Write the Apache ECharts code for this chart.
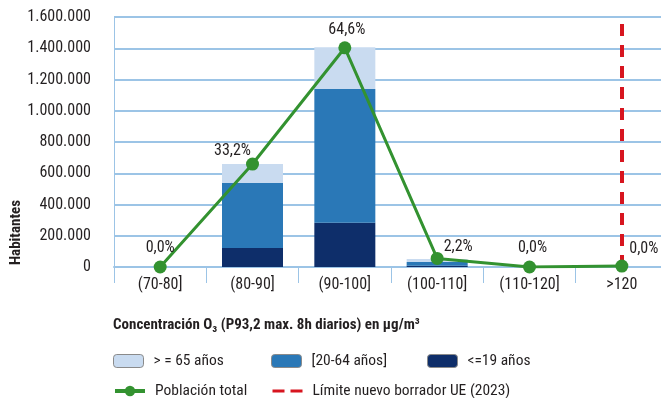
<!DOCTYPE html>
<html><head><meta charset="utf-8">
<script src="https://cdn.jsdelivr.net/npm/echarts@6/dist/echarts.min.js"></script>
<style>html,body{margin:0;padding:0;background:#fff;overflow:hidden}#c{width:680px;height:398px}</style>
</head><body><div id="c"></div>
<script>
const categories = ['(70-80]', '(80-90]', '(90-100]', '(100-110]', '(110-120]', '>120'];
const young = [0, 122000, 284000, 8000, 0, 0];          // <=19 años
const adults = [0, 416000, 855000, 24000, 0, 0];        // [20-64 años]
const seniors = [0, 121000, 267000, 19000, 0, 0];       // >= 65 años
const totalPop = [0, 659000, 1403000, 55000, 0, 6000];  // Población total
const totalPct = ['0,0%', '33,2%', '64,6%', '2,2%', '0,0%', '0,0%'];
const yTicks = [0, 200000, 400000, 600000, 800000, 1000000, 1200000, 1400000, 1600000];
const limitCategory = '>120';

const FONT = "'Roboto Condensed','Liberation Sans Narrow','DejaVu Sans Condensed',Roboto,sans-serif";
const TXT = '#231f20';
const chart = echarts.init(document.getElementById('c'), null, {renderer: 'canvas'});
const fmt = v => String(v).replace(/\B(?=(\d{3})+(?!\d))/g, '.');
const labelPos = [[0,0],[-20,6],[2,2],[21,8],[3,0],[22,2]];

const baseLegend = {itemWidth: 30, itemHeight: 13, itemGap: 8, padding: 0,
  textStyle: {color: TXT, fontSize: 15.5, fontFamily: FONT, padding: [0,0,0,5]}};

chart.setOption({
  animation: false,
  textStyle: {fontFamily: FONT},
  grid: {left: 114, width: 554, top: 17, height: 250, containLabel: false},
  xAxis: {
    type: 'category', data: categories,
    axisLine: {lineStyle: {color: '#9cc4e6', width: 2}},
    axisTick: {show: true, alignWithLabel: false, length: 16, lineStyle: {color: '#9cc4e6', width: 1}},
    axisLabel: {color: TXT, fontSize: 16, fontFamily: FONT, margin: 10},
  },
  yAxis: {
    type: 'value', min: 0, max: yTicks[yTicks.length - 1], interval: yTicks[1] - yTicks[0],
    axisLine: {show: true, lineStyle: {color: '#9cc4e6', width: 1}},
    axisTick: {show: false},
    splitLine: {lineStyle: {color: '#9cc4e6', width: 2}},
    axisLabel: {color: TXT, fontSize: 16, fontFamily: FONT, margin: 23, formatter: v => fmt(v)},
  },
  legend: [
    Object.assign({}, baseLegend, {data: ['> = 65 años'], left: 113, top: 353,
      itemStyle: {borderColor: '#8a8a8a', borderWidth: 1}}),
    Object.assign({}, baseLegend, {data: ['[20-64 años]'], left: 271, top: 353,
      itemStyle: {borderColor: '#8a8a8a', borderWidth: 1}}),
    Object.assign({}, baseLegend, {data: ['<=19 años'], left: 427, top: 353,
      itemStyle: {borderColor: '#8a8a8a', borderWidth: 1}}),
    Object.assign({}, baseLegend, {data: ['Población total'], left: 113, top: 383,
      lineStyle: {width: 4}}),
    Object.assign({}, baseLegend, {data: ['Límite nuevo borrador UE (2023)'], left: 271, top: 383,
      itemStyle: {opacity: 0}, lineStyle: {type: [12, 6], width: 3}}),
  ],
  graphic: [
    {type: 'text', left: 9, top: 200, rotation: Math.PI / 2,
     style: {text: 'Habitantes', fontSize: 15, fontWeight: 'bold', fontFamily: FONT, fill: TXT}},
    {type: 'text', left: 113, top: 318,
     style: {text: 'Concentración O₃ (P93,2 max. 8h diarios) en µg/m³', fontSize: 15, fontWeight: 'bold', fontFamily: FONT, fill: TXT}},
  ],
  series: [
    {name: '<=19 años', type: 'bar', stack: 'p', data: young, barWidth: 61,
     itemStyle: {color: '#0e2e6a'}},
    {name: '[20-64 años]', type: 'bar', stack: 'p', data: adults, barWidth: 61,
     itemStyle: {color: '#2a78b7'}},
    {name: '> = 65 años', type: 'bar', stack: 'p', data: seniors, barWidth: 61,
     itemStyle: {color: '#c9dbf0'}},
    {name: 'Población total', type: 'line', data: totalPop.map((v, i) => ({value: v,
        label: {show: true, formatter: totalPct[i], offset: labelPos[i]}})),
     symbol: 'circle', symbolSize: 13, z: 5,
     lineStyle: {color: '#339230', width: 3}, itemStyle: {color: '#339230'},
     label: {position: 'top', color: TXT, fontSize: 16, fontFamily: FONT}},
    {name: 'Límite nuevo borrador UE (2023)', type: 'line', data: [], symbol: 'none',
     lineStyle: {color: '#d7151f', width: 4, type: [12, 9]}, itemStyle: {color: '#d7151f'},
     markLine: {silent: true, symbol: 'none', label: {show: false},
       lineStyle: {color: '#d7151f', width: 4, type: [12, 9]},
       data: [{xAxis: limitCategory}]}, z: 4},
  ],
});
</script></body></html>
